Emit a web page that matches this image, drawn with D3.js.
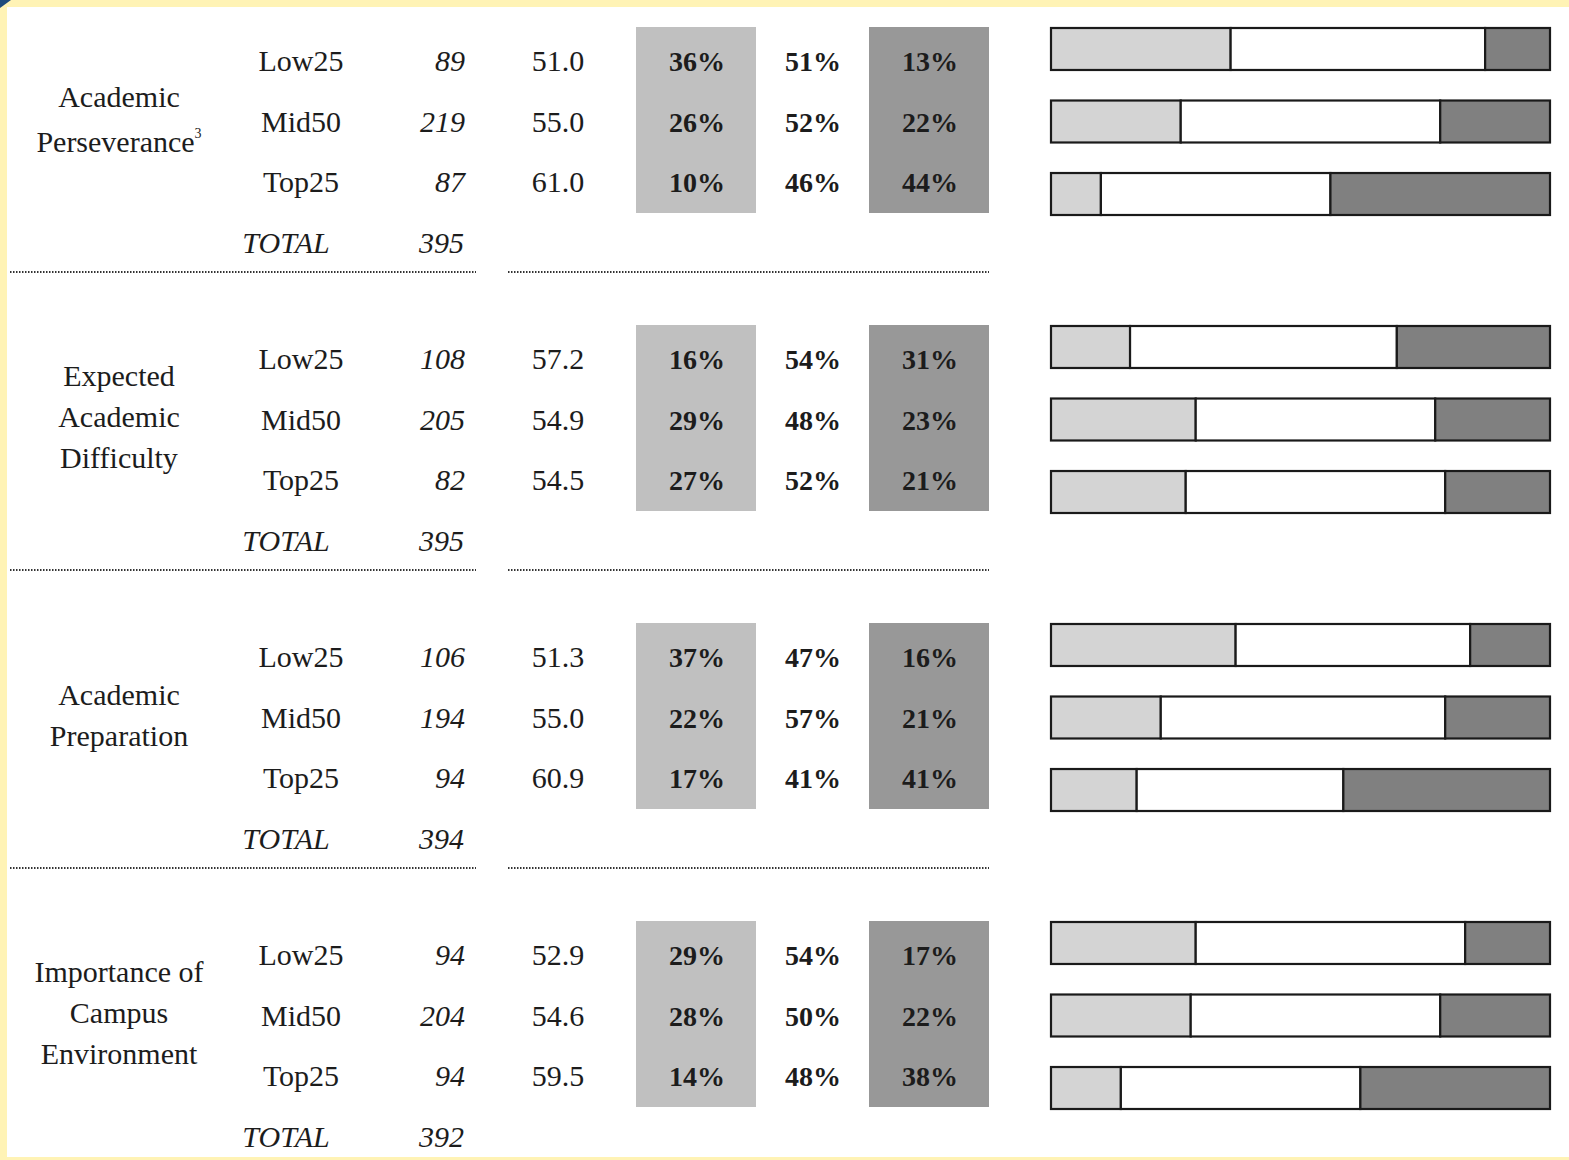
<!DOCTYPE html>
<html>
<head>
<meta charset="utf-8">
<script src="https://cdn.jsdelivr.net/npm/d3@7"></script>
<style>
  html, body { margin: 0; padding: 0; background: #fff3b5; }
  svg { display: block; }
</style>
</head>
<body>
<script>
const W = 1569, H = 1160;

// data
const groups = [
  ['Academic', 'Perseverance'],
  ['Expected', 'Academic', 'Difficulty'],
  ['Academic', 'Preparation'],
  ['Importance of', 'Campus', 'Environment']
];
const group_sup = ['3', '', '', ''];
const levels = ['Low25', 'Mid50', 'Top25'];
const counts = [[89, 219, 87], [108, 205, 82], [106, 194, 94], [94, 204, 94]];
const totals = [395, 395, 394, 392];
const means = [['51.0', '55.0', '61.0'], ['57.2', '54.9', '54.5'], ['51.3', '55.0', '60.9'], ['52.9', '54.6', '59.5']];
const pct_low = [[36, 26, 10], [16, 29, 27], [37, 22, 17], [29, 28, 14]];
const pct_mid = [[51, 52, 46], [54, 48, 52], [47, 57, 41], [54, 50, 48]];
const pct_high = [[13, 22, 44], [31, 23, 21], [16, 21, 41], [17, 22, 38]];

const font = '"Liberation Serif", "Times New Roman", serif';
const ink = '#1c1c1c';

const svg = d3.select('body').append('svg')
    .attr('width', W)
    .attr('height', H);

// page background
svg.append('rect').attr('x', 7).attr('y', 7).attr('width', W - 7).attr('height', 1150).attr('fill', '#fff');
svg.append('path').attr('d', 'M0,0 L11,0 L0,8 Z').attr('fill', '#1d4a7c');

// scales
const sec_y = d3.scaleLinear().domain([0, 3]).range([0, 894]);
const row_y = d3.scaleLinear().domain([0, 3]).range([71, 253]);
const bar_y = d3.scaleBand().domain([0, 1, 2]).range([28, 215]).paddingInner(0.421);
const bar_x = d3.scaleLinear().domain([0, 1]).range([1051, 1550]);

const sections = svg.selectAll('.section')
    .data(groups.map((g, i) => ({ i: i, label: g, sup: group_sup[i] })))
    .enter()
    .append('g')
        .attr('class', 'section')
        .attr('transform', (d) => `translate(0,${sec_y(d.i)})`);

// shaded columns
sections.append('rect')
    .attr('x', 636).attr('y', 27).attr('width', 120).attr('height', 186)
    .attr('fill', '#c0c0c0');
sections.append('rect')
    .attr('x', 869).attr('y', 27).attr('width', 120).attr('height', 186)
    .attr('fill', '#989898');

// group label
sections.each(function (d) {
    const g = d3.select(this);
    const lh = d.sup ? 45 : 41;
    const mid = 129;
    const t = g.append('text')
        .attr('text-anchor', 'middle')
        .attr('font-family', font)
        .attr('font-size', 30)
        .attr('fill', ink);
    d.label.forEach((line, k) => {
        const ts = t.append('tspan')
            .attr('x', 119)
            .attr('y', mid + (k - (d.label.length - 1) / 2) * lh)
            .text(line);
        if (d.sup && k === d.label.length - 1) {
            ts.append('tspan')
                .attr('font-size', 14)
                .attr('dy', -14)
                .text(d.sup);
        }
    });
});

// rows of text
const rows = sections.selectAll('.row')
    .data((d) => levels.map((lv, r) => ({
        r: r, level: lv, n: counts[d.i][r], mean: means[d.i][r],
        lo: pct_low[d.i][r], md: pct_mid[d.i][r], hi: pct_high[d.i][r]
    })))
    .enter()
    .append('g')
        .attr('class', 'row')
        .attr('font-family', font)
        .attr('fill', ink);

rows.append('text')
    .attr('x', 301).attr('y', (d) => row_y(d.r))
    .attr('text-anchor', 'middle').attr('font-size', 30)
    .text((d) => d.level);
rows.append('text')
    .attr('x', 465).attr('y', (d) => row_y(d.r))
    .attr('text-anchor', 'end').attr('font-size', 30).attr('font-style', 'italic')
    .text((d) => d.n);
rows.append('text')
    .attr('x', 558).attr('y', (d) => row_y(d.r))
    .attr('text-anchor', 'middle').attr('font-size', 30)
    .text((d) => d.mean);

const pct_cols = [['lo', 697], ['md', 813], ['hi', 930]];
pct_cols.forEach(([k, x]) => {
    rows.append('text')
        .attr('x', x).attr('y', (d) => row_y(d.r))
        .attr('text-anchor', 'middle').attr('font-size', 28).attr('font-weight', 'bold')
        .text((d) => d[k] + '%');
});

// total row
sections.append('text')
    .attr('x', 286).attr('y', row_y(3))
    .attr('text-anchor', 'middle').attr('font-family', font).attr('font-size', 30)
    .attr('font-style', 'italic').attr('fill', ink)
    .text('TOTAL');
sections.append('text')
    .attr('x', 464).attr('y', row_y(3))
    .attr('text-anchor', 'end').attr('font-family', font).attr('font-size', 30)
    .attr('font-style', 'italic').attr('fill', ink)
    .text((d) => totals[d.i]);

// separators
sections.filter((d) => d.i < groups.length - 1).each(function () {
    const g = d3.select(this);
    [[10, 476], [508, 989]].forEach(([x1, x2]) => {
        g.append('line')
            .attr('x1', x1).attr('x2', x2).attr('y1', 272).attr('y2', 272)
            .attr('stroke', '#333').attr('stroke-width', 2)
            .attr('stroke-dasharray', '1.5,1.5');
    });
});

// stacked bars
const seg_fill = ['#d4d4d4', '#ffffff', '#808080'];
const bars = sections.selectAll('.bar')
    .data((d) => levels.map((lv, r) => {
        const v = [pct_low[d.i][r], pct_mid[d.i][r], pct_high[d.i][r]];
        const sum = d3.sum(v);
        let acc = 0;
        return {
            r: r,
            segs: v.map((p, k) => {
                const s = { k: k, x0: acc / sum, x1: (acc + p) / sum };
                acc += p;
                return s;
            })
        };
    }))
    .enter()
    .append('g')
        .attr('class', 'bar')
        .attr('transform', (d) => `translate(0,${bar_y(d.r)})`);

bars.selectAll('rect')
    .data((d) => d.segs)
    .enter()
    .append('rect')
        .attr('x', (s) => bar_x(s.x0))
        .attr('y', 0)
        .attr('width', (s) => bar_x(s.x1) - bar_x(s.x0))
        .attr('height', bar_y.bandwidth())
        .attr('fill', (s) => seg_fill[s.k])
        .attr('stroke', '#1a1a1a')
        .attr('stroke-width', 2.2);
</script>
</body>
</html>
